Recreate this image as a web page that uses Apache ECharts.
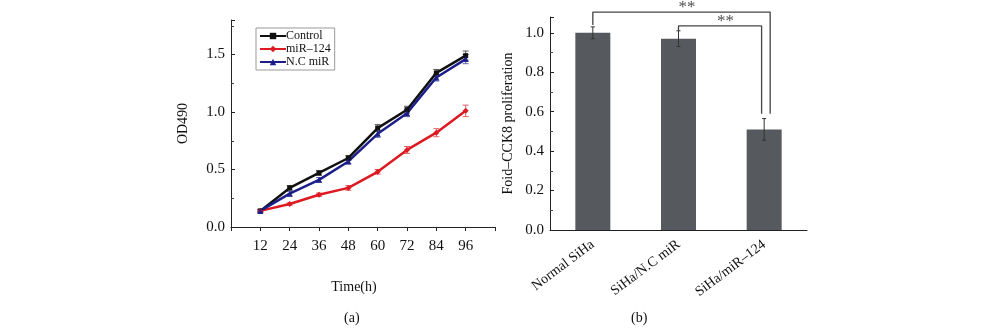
<!DOCTYPE html>
<html>
<head>
<meta charset="utf-8">
<script src="https://cdn.jsdelivr.net/npm/echarts@6/dist/echarts.min.js"></script>
<style>
  html, body { margin: 0; padding: 0; background: #fff; }
  #chart { width: 986px; height: 333px; }
</style>
</head>
<body>
<div id="chart"></div>
<script>
// (a) OD490 growth curves
const hours = [12, 24, 36, 48, 60, 72, 84, 96];
const controlOD = [0.14, 0.34, 0.47, 0.60, 0.86, 1.02, 1.34, 1.49];
const mir124OD = [0.14, 0.20, 0.28, 0.34, 0.48, 0.67, 0.82, 1.01];
const ncOD = [0.14, 0.29, 0.41, 0.57, 0.81, 0.99, 1.30, 1.46];
const controlErr = [0.01, 0.02, 0.02, 0.02, 0.03, 0.03, 0.03, 0.04];
const mir124Err = [0.01, 0.01, 0.015, 0.02, 0.02, 0.03, 0.035, 0.05];
const ncErr = [0.01, 0.02, 0.02, 0.02, 0.03, 0.03, 0.03, 0.04];

// (b) fold CCK8 proliferation
const groups = ['Normal SiHa', 'SiHa/N.C miR', 'SiHa/miR–124'];
const fold = [1.00, 0.97, 0.51];
const foldErr = [0.03, 0.04, 0.055];
const bracket1 = [[0.5, 1.04], [0.5, 1.105], [2.57, 1.105], [2.57, 0.59]];
const bracket2 = [[1.5, 1.01], [1.5, 1.035], [2.47, 1.035], [2.47, 0.59]];
const stars = [[1.6, 1.13, '**'], [2.05, 1.055, '**']];

let font = 'Liberation Serif';
let chart = echarts.init(document.getElementById('chart'));

function errRender(color, capW) {
	return function (params, api) {
		let x = api.value(0), v = api.value(1), e = api.value(2);
		let hi = api.coord([x, v + e]);
		let lo = api.coord([x, v - e]);
		let style = { stroke: color, lineWidth: 1 };
		return {
			type: 'group',
			children: [
				{ type: 'line', shape: { x1: hi[0], y1: hi[1], x2: lo[0], y2: lo[1] }, style: style },
				{ type: 'line', shape: { x1: hi[0] - capW, y1: hi[1], x2: hi[0] + capW, y2: hi[1] }, style: style },
				{ type: 'line', shape: { x1: lo[0] - capW, y1: lo[1], x2: lo[0] + capW, y2: lo[1] }, style: style }
			]
		};
	};
}

function zipErr(xs, vs, es) {
	return xs.map((x, i) => [x, vs[i], es[i]]);
}
function zip(xs, vs) {
	return xs.map((x, i) => [x, vs[i]]);
}

let axisLine = { lineStyle: { color: '#222', width: 1 } };
let labelStyle = { color: '#111', fontFamily: font, fontSize: 15 };

let opt = {
	animation: false,
	backgroundColor: '#fff',
	legend: {
		orient: 'vertical',
		left: 256,
		top: 28,
		itemGap: 1,
		itemWidth: 26,
		itemHeight: 8,
		padding: [2, 4, 2, 3],
		borderColor: '#999',
		borderWidth: 1,
		textStyle: { fontFamily: font, fontSize: 12, color: '#111', padding: [0, 0, 0, -5] },
		data: ['Control', 'miR–124', 'N.C miR']
	},
	grid: [
		{ left: 231, right: 491, top: 20, bottom: 106 },
		{ left: 550, right: 179, top: 17, bottom: 103 }
	],
	xAxis: [
		{
			gridIndex: 0, type: 'value', min: 0, max: 108, interval: 12,
			name: 'Time(h)', nameLocation: 'middle', nameGap: 53, nameMoveOverlap: false,
			nameTextStyle: { fontFamily: font, fontSize: 14, color: '#111', padding: [0, 18, 0, 0] },
			axisLine: axisLine,
			axisTick: { length: 4, lineStyle: { color: '#222' } },
			axisLabel: Object.assign({}, labelStyle, {
				margin: 12,
				formatter: v => (v === 0 || v === 108) ? '' : v
			}),
			splitLine: { show: false }
		},
		{
			gridIndex: 1, type: 'category', data: groups, position: 'bottom',
			axisLine: axisLine,
			axisTick: { inside: true, length: 3, lineStyle: { color: '#222' } },
			axisLabel: Object.assign({}, labelStyle, { fontSize: 14, rotate: 37, margin: 13, interval: 0 }),
			splitLine: { show: false }
		},
		{
			gridIndex: 1, type: 'category', data: groups, position: 'bottom',
			axisLine: { show: false },
			axisTick: { alignWithLabel: true, inside: true, length: 3, lineStyle: { color: '#222' } },
			axisLabel: { show: false },
			splitLine: { show: false }
		},
		{
			gridIndex: 1, type: 'value', min: 0, max: 3, show: false
		}
	],
	yAxis: [
		{
			gridIndex: 0, type: 'value', min: 0, max: 1.8, interval: 0.5,
			name: 'OD490', nameLocation: 'middle', nameGap: 41, nameMoveOverlap: false,
			nameTextStyle: { fontFamily: font, fontSize: 14, color: '#111', padding: [0, 0, 0, 0] },
			axisLine: { show: true, lineStyle: { color: '#222', width: 1 } },
			axisTick: { show: true, inside: true, length: 4, lineStyle: { color: '#222' } },
			minorTick: { show: true, splitNumber: 2, length: 3, lineStyle: { color: '#444' } },
			axisLabel: Object.assign({}, labelStyle, {
				margin: 6, showMaxLabel: false,
				formatter: v => v.toFixed(1)
			}),
			splitLine: { show: false }
		},
		{
			gridIndex: 1, type: 'value', min: 0, max: 1.08, interval: 0.2,
			name: 'Foid–CCK8 proliferation', nameLocation: 'middle', nameGap: 35, nameMoveOverlap: false,
			nameTextStyle: { fontFamily: font, fontSize: 14, color: '#111' },
			axisLine: { show: true, lineStyle: { color: '#222', width: 1 } },
			axisTick: { show: true, inside: true, length: 4, lineStyle: { color: '#222' } },
			minorTick: { show: true, splitNumber: 2, length: 3, lineStyle: { color: '#444' } },
			axisLabel: Object.assign({}, labelStyle, {
				margin: 6, showMaxLabel: false,
				formatter: v => v.toFixed(1)
			}),
			splitLine: { show: false }
		}
	],
	series: [
		{
			name: 'Control', type: 'line', xAxisIndex: 0, yAxisIndex: 0,
			data: zip(hours, controlOD),
			symbol: 'rect', symbolSize: 5,
			lineStyle: { color: '#111', width: 2.5 },
			itemStyle: { color: '#111' }
		},
		{
			name: 'miR–124', type: 'line', xAxisIndex: 0, yAxisIndex: 0,
			data: zip(hours, mir124OD),
			symbol: 'diamond', symbolSize: 6,
			lineStyle: { color: '#dd1a22', width: 2.5 },
			itemStyle: { color: '#dd1a22' }
		},
		{
			name: 'N.C miR', type: 'line', xAxisIndex: 0, yAxisIndex: 0,
			data: zip(hours, ncOD),
			symbol: 'triangle', symbolSize: 6,
			lineStyle: { color: '#1c1f8a', width: 2.5 },
			itemStyle: { color: '#1c1f8a' }
		},
		{
			type: 'custom', xAxisIndex: 0, yAxisIndex: 0, z: 1,
			data: zipErr(hours, controlOD, controlErr),
			renderItem: errRender('#555', 3)
		},
		{
			type: 'custom', xAxisIndex: 0, yAxisIndex: 0, z: 1,
			data: zipErr(hours, mir124OD, mir124Err),
			renderItem: errRender('#e0606a', 3)
		},
		{
			type: 'custom', xAxisIndex: 0, yAxisIndex: 0, z: 1,
			data: zipErr(hours, ncOD, ncErr),
			renderItem: errRender('#5a64b0', 3)
		},
		{
			type: 'bar', xAxisIndex: 1, yAxisIndex: 1,
			data: fold, barWidth: 35,
			itemStyle: { color: '#56595d' }
		},
		{
			type: 'custom', xAxisIndex: 1, yAxisIndex: 1, z: 3,
			data: zipErr([0, 1, 2], fold, foldErr),
			renderItem: errRender('#333', 2)
		},
		{
			type: 'line', xAxisIndex: 3, yAxisIndex: 1, clip: false,
			data: bracket1, symbol: 'none',
			lineStyle: { color: '#444', width: 1.3 }
		},
		{
			type: 'line', xAxisIndex: 3, yAxisIndex: 1, clip: false,
			data: bracket2, symbol: 'none',
			lineStyle: { color: '#444', width: 1.3 }
		},
		{
			type: 'scatter', xAxisIndex: 3, yAxisIndex: 1, clip: false,
			data: stars, symbolSize: 0,
			label: {
				show: true, position: 'inside', formatter: p => p.data[2],
				fontFamily: font, fontSize: 17, color: '#222'
			}
		}
	],
	graphic: [
		{ type: 'text', left: 344, top: 311, style: { text: '(a)', font: '14px "Liberation Serif"', fill: '#111' } },
		{ type: 'text', left: 631, top: 311, style: { text: '(b)', font: '14px "Liberation Serif"', fill: '#111' } }
	]
};
chart.setOption(opt);
</script>
</body>
</html>
